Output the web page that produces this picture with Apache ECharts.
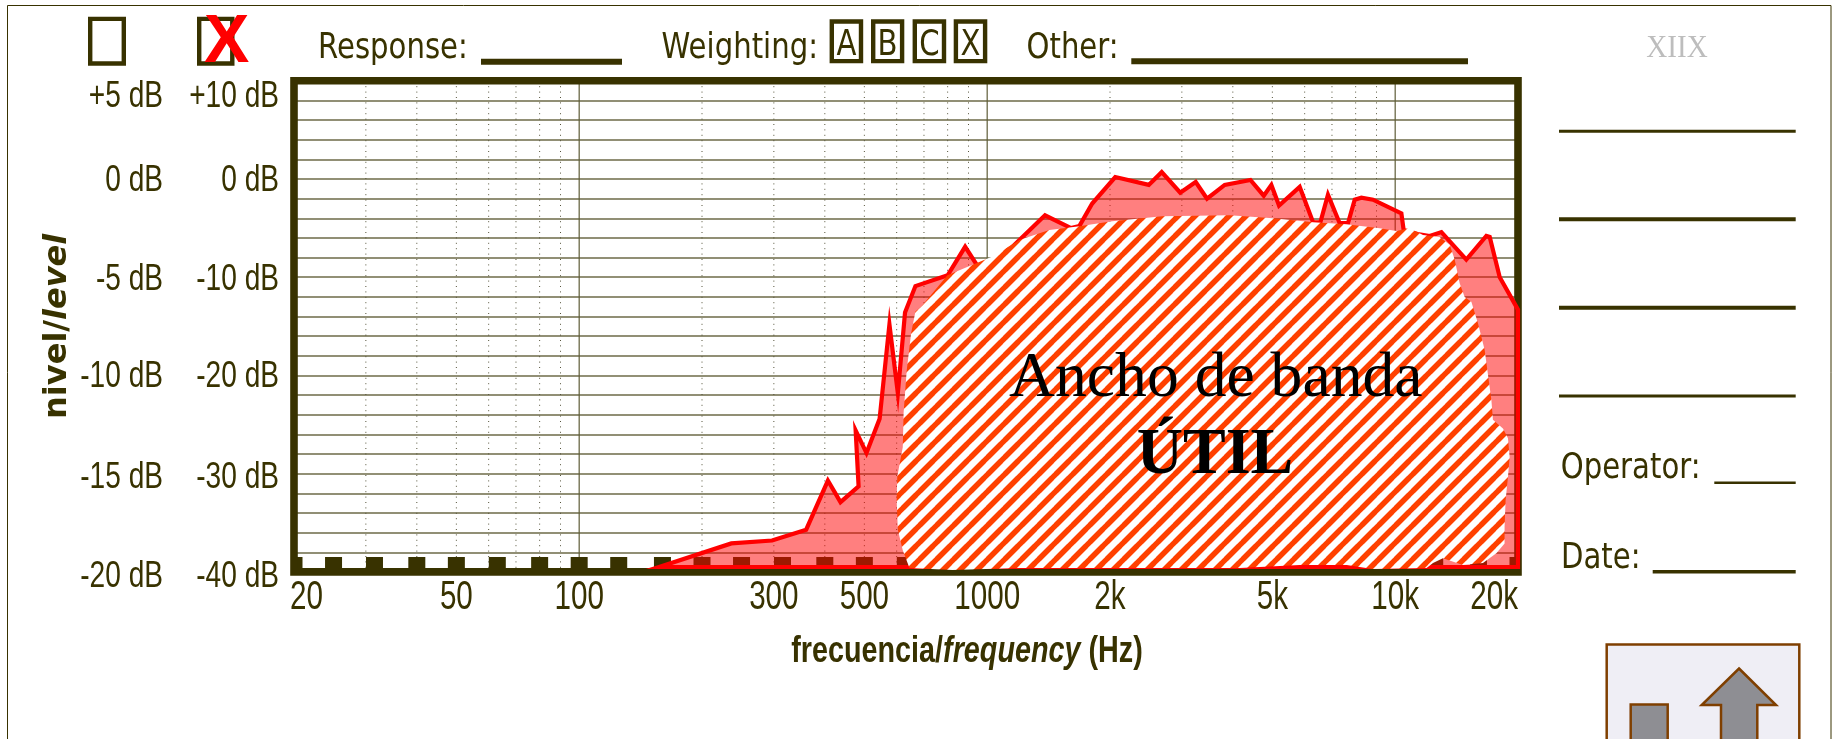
<!DOCTYPE html>
<html>
<head>
<meta charset="utf-8">
<title>Ancho de banda</title>
<style>
  html, body { margin: 0; padding: 0; background: #fff; }
  #main { width: 1837px; height: 739px; }
</style>
<script src="https://cdn.jsdelivr.net/npm/echarts@6/dist/echarts.min.js"></script>
</head>
<body>
<div id="main"></div>
<script>
// tick labels
const xTickValues = [20, 50, 100, 300, 500, 1000, 2000, 5000, 10000, 20000];
const xTickLabels = ['20', '50', '100', '300', '500', '1000', '2k', '5k', '10k', '20k'];
const levelTicksWide = [10, 0, -10, -20, -30, -40];
const levelLabelsWide = ['+10 dB', '0 dB', '-10 dB', '-20 dB', '-30 dB', '-40 dB'];
const levelTicksNarrow = [5, 0, -5, -10, -15, -20];
const levelLabelsNarrow = ['+5 dB', '0 dB', '-5 dB', '-10 dB', '-15 dB', '-20 dB'];

// grid verticals and the third-octave squares along the bottom
const decadeFreqs = [100, 1000, 10000];
const dottedFreqs = [30, 40, 50, 60, 70, 80, 90, 200, 300, 400, 500, 600, 700, 800, 900,
  2000, 3000, 4000, 5000, 6000, 7000, 8000, 9000];
const thirdOctaveFreqs = [20, 25, 31.5, 40, 50, 63, 80, 100, 125, 160, 200, 250, 315, 400, 500, 630, 800,
  1000, 1250, 1600, 2000, 2500, 3150, 4000, 5000, 6300, 8000, 10000, 12500, 16000, 20000];

// response curve
const responseFreqs = [157, 236, 297, 360, 407, 437, 484, 476, 506, 545, 576, 604, 629, 667, 800, 883, 966,
  1120, 1386, 1605, 1682, 1809, 2060, 2489, 2678, 2973, 3244, 3458, 3821, 4418, 4763, 4972, 5192, 5834,
  6291, 6557, 6843, 7311, 7662, 7958, 8263, 8823, 10356, 10490, 11350, 12150, 12980, 14940, 16730, 17050,
  18040, 20000, 20000];
const responseLevels = [-39.5, -37.1, -36.8, -35.7, -30.7, -32.9, -31.3, -25.6, -27.9, -24.4, -14.8, -21.8,
  -13.6, -10.9, -9.8, -6.9, -9.4, -7.4, -3.7, -5.0, -4.8, -2.5, 0.2, -0.6, 0.7, -1.4, -0.3, -2.0, -0.6, -0.1,
  -1.7, -0.6, -2.7, -0.8, -4.4, -4.4, -1.6, -4.5, -4.5, -2.1, -1.9, -2.1, -3.5, -5.2, -5.6, -5.8, -5.4, -8.2,
  -5.8, -5.9, -10, -13.3, -39.5];

// outline of the hatched "usable band" patch
const bandFreqs = [645, 621, 604, 600, 602, 621, 624, 635, 651, 667, 689, 799, 1030, 1199, 1420, 1682, 2026,
  2684, 3930, 5020, 6291, 7593, 9163, 10070, 10850, 11700, 12850, 13600, 13990, 14390, 14800, 15370, 15960,
  16570, 17210, 17360, 18370, 18900, 19080, 18900, 18650, 18540, 18540, 17700, 16410, 14660, 13090, 12380,
  11940, 8810, 7607, 5834, 4159, 1199, 822];
const bandLevels = [-39.6, -37.8, -35.7, -32.7, -30.3, -27.3, -23.8, -19.5, -15.7, -13.5, -13, -9.8, -7.9, -6.2,
  -5.2, -4.8, -4.3, -3.8, -3.7, -4, -4.4, -4.6, -5, -5.3, -5, -5.7, -5.9, -6.7, -8.2, -10.6, -12, -12.5, -14.7,
  -17.4, -22.5, -24.5, -25.4, -26.4, -28.3, -30.3, -32.7, -35.4, -37.1, -38.1, -39.1, -39.3, -38.6, -39.1,
  -39.6, -39.7, -39.3, -39.3, -39.6, -39.6, -39.8];

const INK = '#383200';
const GRID_LINE = '#6e6b48';
const DEJAVU = '"DejaVu Sans"';
const LIB_SANS = '"Liberation Sans"';
const LIB_SERIF = '"Liberation Serif"';
// the level labels do not sit exactly on their lines in the original
const levelLabelNudge = [16, 2.5, 2.5, 1.5, 4, 5];

// diagonal stripes for the patch
function stripes() {
  const s = 17;
  const c = document.createElement('canvas');
  c.width = s;
  c.height = s;
  const g = c.getContext('2d');
  g.fillStyle = '#fff';
  g.fillRect(0, 0, s, s);
  g.strokeStyle = '#ff4000';
  g.lineWidth = 5.4;
  g.filter = 'blur(0.6px)';
  [[-s / 2, s / 2, s / 2, -s / 2], [0, s, s, 0], [s / 2, s * 1.5, s * 1.5, s / 2]].forEach(l => {
    g.beginPath();
    g.moveTo(l[0], l[1]);
    g.lineTo(l[2], l[3]);
    g.stroke();
  });
  return c;
}
const stripePattern = { image: stripes(), repeat: 'repeat' };

// y is the baseline of the text, zrender positions it from the middle
function baselineText(text, x, y, size, family, opts) {
  opts = opts || {};
  return {
    type: 'text', x: x, y: y - size * 0.27, scaleX: opts.scaleX || 1, z: opts.z || 20,
    style: {
      text: text,
      fill: opts.fill || INK,
      font: (opts.weight ? opts.weight + ' ' : '') + size + 'px ' + family,
      align: opts.align || 'left',
      verticalAlign: 'middle'
    }
  };
}
function headText(text, x, y, align) {
  return baselineText(text, x, y, 36, DEJAVU, { scaleX: 0.81, align: align });
}
function bar(x1, x2, y, h) {
  return { type: 'rect', z: 20, shape: { x: x1, y: y - h / 2, width: x2 - x1, height: h }, style: { fill: INK } };
}
function box(x1, y1, x2, y2, w) {
  return {
    type: 'rect', z: 20,
    shape: { x: x1 + w / 2, y: y1 + w / 2, width: x2 - x1 - w, height: y2 - y1 - w },
    style: { fill: 'none', stroke: INK, lineWidth: w }
  };
}

// vertical guide renderer, used for both the solid and dotted verticals
function vline(style) {
  return (params, api) => {
    const a = api.coord([api.value(0), 10]);
    const b = api.coord([api.value(0), -40]);
    return { type: 'line', shape: { x1: a[0], y1: a[1], x2: b[0], y2: b[1] }, style: style };
  };
}

// level labels, drawn as text so they can be squeezed like the original
function levelLabels(labels, rightOffset) {
  return (params, api) => {
    const p = api.coord([20, api.value(1)]);
    return {
      type: 'text', x: p[0] - rightOffset, y: p[1] + levelLabelNudge[params.dataIndex], scaleX: 0.78,
      style: { text: labels[params.dataIndex], fill: INK, font: '36px ' + LIB_SANS, align: 'right', verticalAlign: 'middle' }
    };
  };
}

const chart = echarts.init(document.getElementById('main'));

chart.setOption({
  animation: false,
  backgroundColor: '#fff',
  grid: { left: 294, right: 319, top: 80.8, bottom: 167.1, show: false },
  xAxis: {
    type: 'log',
    logBase: 10,
    min: 20,
    max: 20000,
    axisLine: { show: false },
    axisTick: { show: false },
    axisLabel: { show: false },
    splitLine: { show: false },
    minorSplitLine: { show: false }
  },
  yAxis: [
    {
      type: 'value',
      min: -40,
      max: 10,
      interval: 10,
      axisLine: { show: false },
      axisTick: { show: false },
      axisLabel: { show: false },
      splitLine: { show: true, lineStyle: { color: GRID_LINE, width: 1.5 } },
      minorTick: { show: false, splitNumber: 5 },
      minorSplitLine: { show: true, lineStyle: { color: GRID_LINE, width: 1.5 } },
      name: '{a|nivel/}{b|level}',
      nameLocation: 'middle',
      nameGap: 220,
      nameTextStyle: {
        rich: {
          a: { fontFamily: DEJAVU, fontWeight: 'bold', fontSize: 32, color: INK },
          b: { fontFamily: DEJAVU, fontWeight: 'bold', fontStyle: 'italic', fontSize: 32, color: INK }
        }
      }
    },
    {
      type: 'value',
      position: 'left',
      min: -20,
      max: 5,
      interval: 5,
      axisLine: { show: false },
      axisTick: { show: false },
      axisLabel: { show: false },
      splitLine: { show: false }
    }
  ],
  series: [
    {
      name: 'dotted',
      type: 'custom',
      z: 1,
      silent: true,
      data: dottedFreqs.map(f => [f, -40]),
      renderItem: vline({ stroke: '#55533a', lineWidth: 1, lineDash: [1, 4.4] })
    },
    {
      name: 'decades',
      type: 'custom',
      z: 1,
      silent: true,
      data: decadeFreqs.map(f => [f, -40]),
      renderItem: vline({ stroke: '#5f5c38', lineWidth: 1.2 })
    },
    {
      name: 'third octaves',
      type: 'custom',
      z: 2,
      silent: true,
      clip: true,
      data: thirdOctaveFreqs.map(f => [f, -40]),
      renderItem: (params, api) => {
        const c = api.coord([api.value(0), -40]);
        return { type: 'rect', shape: { x: c[0] - 8.5, y: c[1] - 15, width: 17, height: 15 }, style: { fill: INK } };
      }
    },
    {
      name: 'frame',
      type: 'custom',
      z: 3,
      silent: true,
      data: [[20, 10, 20000, -40]],
      renderItem: (params, api) => {
        const a = api.coord([api.value(0), api.value(1)]);
        const b = api.coord([api.value(2), api.value(3)]);
        return {
          type: 'rect',
          shape: { x: a[0], y: a[1], width: b[0] - a[0], height: b[1] - a[1] },
          style: { fill: 'none', stroke: INK, lineWidth: 7.6 }
        };
      }
    },
    {
      name: 'response',
      type: 'custom',
      z: 4,
      silent: true,
      clip: false,
      data: responseFreqs.map((f, i) => [f, responseLevels[i]]),
      renderItem: (params, api) => {
        if (params.dataIndex !== 0) return;
        const pts = responseFreqs.map((f, i) => api.coord([f, responseLevels[i]]));
        return {
          type: 'polygon',
          shape: { points: pts },
          style: { fill: 'rgba(255,0,0,0.5)', stroke: '#ff0000', lineWidth: 4.2, lineJoin: 'miter' }
        };
      }
    },
    {
      name: 'usable band',
      type: 'custom',
      z: 5,
      silent: true,
      clip: false,
      data: bandFreqs.map((f, i) => [f, bandLevels[i]]),
      renderItem: (params, api) => {
        if (params.dataIndex !== 0) return;
        const pts = bandFreqs.map((f, i) => api.coord([f, bandLevels[i]]));
        return { type: 'polygon', shape: { points: pts }, style: { fill: stripePattern } };
      }
    },
    {
      name: 'x labels',
      type: 'custom',
      z: 6,
      silent: true,
      data: xTickValues.map(f => [f, -40]),
      renderItem: (params, api) => {
        const i = params.dataIndex;
        const p = api.coord([api.value(0), -40]);
        const last = xTickValues.length - 1;
        return {
          type: 'text', x: i === 0 ? p[0] - 4 : p[0], y: p[1] + 26, scaleX: 0.74,
          style: {
            text: xTickLabels[i], fill: INK, font: '40px ' + LIB_SANS,
            align: i === 0 ? 'left' : (i === last ? 'right' : 'center'),
            verticalAlign: 'middle'
          }
        };
      }
    },
    {
      name: 'level labels wide',
      type: 'custom',
      z: 6,
      silent: true,
      yAxisIndex: 0,
      data: levelTicksWide.map(v => [20, v]),
      renderItem: levelLabels(levelLabelsWide, 15)
    },
    {
      name: 'level labels narrow',
      type: 'custom',
      z: 6,
      silent: true,
      yAxisIndex: 1,
      data: levelTicksNarrow.map(v => [20, v]),
      renderItem: levelLabels(levelLabelsNarrow, 131)
    }
  ],
  graphic: [
    // page border, open at the bottom
    {
      type: 'polyline', z: 20,
      shape: { points: [[7.5, 739], [7.5, 5.5], [1831, 5.5], [1831, 739]] },
      style: { fill: 'none', stroke: INK, lineWidth: 1 }
    },

    // check boxes
    box(88, 16.7, 126, 65.7, 4.4),
    box(197, 16.7, 234.5, 65.7, 4.4),
    baselineText('X', 204, 62, 68, LIB_SANS, { weight: 'bold', fill: '#ff0000', z: 21 }),

    // header row
    headText('Response:', 318, 58.3),
    bar(481, 622, 61.7, 6),
    headText('Weighting:', 661.5, 58.3),
    box(829.6, 19.3, 863.2, 63.3, 4.4),
    box(871, 19.3, 904.3, 63.3, 4.4),
    box(912.6, 19.3, 946.2, 63.3, 4.4),
    box(953.7, 19.3, 987.3, 63.3, 4.4),
    headText('A', 846.4, 55, 'center'),
    headText('B', 887.6, 55, 'center'),
    headText('C', 929.4, 55, 'center'),
    headText('X', 970.5, 55, 'center'),
    headText('Other:', 1026.5, 58.3),
    bar(1131.3, 1468, 61.2, 6),

    // right column
    baselineText('XIIX', 1646.2, 57.3, 31, LIB_SERIF, { fill: '#bdbdbd', scaleX: 0.94 }),
    bar(1559, 1795.7, 131.3, 3),
    bar(1559, 1795.7, 219.3, 4),
    bar(1559, 1795.7, 307.7, 4),
    bar(1559, 1795.7, 396, 3),
    headText('Operator:', 1560.7, 478.3),
    bar(1714.3, 1795.7, 482.7, 2.5),
    headText('Date:', 1561, 568.3),
    bar(1652.7, 1795.7, 571.7, 3.5),

    // axis title
    {
      type: 'text', x: 967, y: 652, z: 20, scaleX: 0.777,
      style: {
        text: '{a|frecuencia/}{b|frequency}{a| (Hz)}',
        align: 'center',
        verticalAlign: 'middle',
        rich: {
          a: { font: 'bold 37px ' + LIB_SANS, fill: INK },
          b: { font: 'italic bold 37px ' + LIB_SANS, fill: INK }
        }
      }
    },

    // patch caption
    baselineText('Ancho de banda', 1215.8, 396.7, 63, LIB_SERIF, { fill: '#000', scaleX: 1.01, align: 'center', z: 21 }),
    baselineText('ÚTIL', 1215, 474, 66, LIB_SERIF, { weight: 'bold', fill: '#000', scaleX: 0.97, align: 'center', z: 21 }),

    // logo corner
    {
      type: 'rect', z: 20,
      shape: { x: 1606.7, y: 644.5, width: 192.6, height: 110 },
      style: { fill: '#efeef5', stroke: '#7f3f00', lineWidth: 2.5 }
    },
    {
      type: 'rect', z: 21,
      shape: { x: 1630.7, y: 704.5, width: 37, height: 50 },
      style: { fill: '#8e8e93', stroke: '#7f3f00', lineWidth: 2.5 }
    },
    {
      type: 'polygon', z: 21,
      shape: { points: [[1739, 668.5], [1776, 705], [1757.3, 705], [1757.3, 760], [1721, 760], [1721, 705], [1701.7, 705]] },
      style: { fill: '#8e8e93', stroke: '#7f3f00', lineWidth: 2.5 }
    }
  ]
});
</script>
</body>
</html>
